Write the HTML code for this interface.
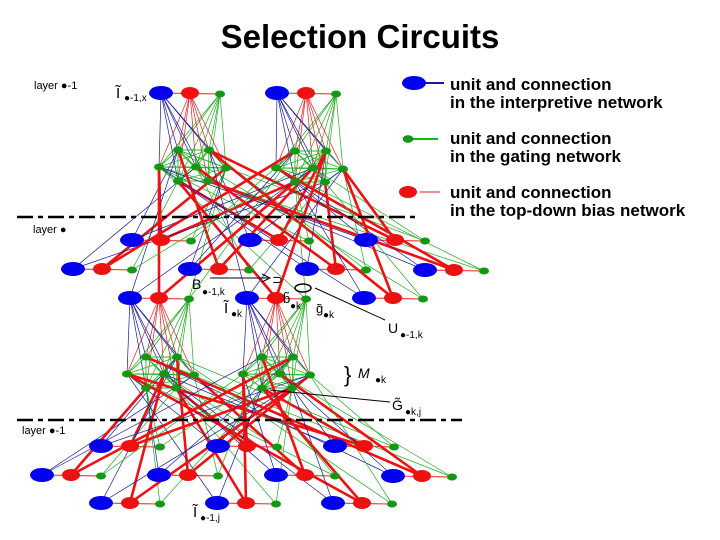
<!DOCTYPE html>
<html><head><meta charset="utf-8"><style>
body{margin:0;background:#fff;width:720px;height:540px;overflow:hidden}
svg{position:absolute;left:0;top:0}
text{font-family:"Liberation Sans",sans-serif}
</style></head><body>
<svg id="s" width="720" height="540" viewBox="0 0 720 540">
<text x="360" y="48" text-anchor="middle" font-size="33" font-weight="bold">Selection Circuits</text>
<g id="lines"></g>
<g id="nodes"></g>
<line x1="17" y1="217" x2="420" y2="217" stroke="#000" stroke-width="2.5" stroke-dasharray="16,5,5,5"/>
<line x1="17" y1="420" x2="462" y2="420" stroke="#000" stroke-width="2.5" stroke-dasharray="16,5,5,5"/>
<g font-size="11">
<text x="34" y="89">layer ●-1</text>
<text x="33" y="233">layer ●</text>
<text x="22" y="434">layer ●-1</text>
<text x="116" y="98" font-size="15">Ĩ</text><text x="124" y="101" font-size="10">●-1,x</text>
<text x="192" y="289" font-size="14">B</text><text x="202" y="295" font-size="10">●-1,k</text>
<text x="224" y="313" font-size="15">Ĩ</text><text x="231" y="317" font-size="10">●k</text>
<text x="283" y="303" font-size="13">b̃</text><text x="290" y="309" font-size="10">●k</text>
<text x="316" y="313" font-size="13">g̃</text><text x="323" y="318" font-size="10">●k</text>
<text x="388" y="333" font-size="14">U</text><text x="400" y="338" font-size="10">●-1,k</text>
<text x="344" y="382" font-size="22">}</text><text x="358" y="378" font-size="14" font-style="italic">M</text><text x="375" y="383" font-size="10">●k</text>
<text x="392" y="410" font-size="14">G̃</text><text x="405" y="415" font-size="10">●k,j</text>
<text x="193" y="517" font-size="15">Ĩ</text><text x="200" y="521" font-size="10">●-1,j</text>
</g>
<line x1="210" y1="278" x2="268" y2="278" stroke="#000" stroke-width="1"/>
<path d="M262 274 L270 278 L262 282" fill="none" stroke="#000"/>
<text x="272" y="284" font-size="13">⊃</text>
<path d="M295 288 a8 4 0 1 1 16 0 a8 4 0 1 1 -16 0" fill="none" stroke="#000" stroke-width="1.5"/>
<line x1="385" y1="320" x2="315" y2="288" stroke="#000"/>
<line x1="390" y1="402" x2="270" y2="390" stroke="#000"/>
<g font-size="17" font-weight="bold">
<text x="450" y="90">unit and connection</text><text x="450" y="108">in the interpretive network</text>
<text x="450" y="144">unit and connection</text><text x="450" y="162">in the gating network</text>
<text x="450" y="198">unit and connection</text><text x="450" y="216">in the top-down bias network</text>
</g>
<line x1="416" y1="83" x2="444" y2="83" stroke="#1a1a99" stroke-width="2"/>
<ellipse cx="414" cy="83" rx="12" ry="7" fill="#0000ee"/>
<line x1="405" y1="139" x2="438" y2="139" stroke="#11bb11" stroke-width="2"/>
<ellipse cx="408" cy="139" rx="5" ry="3.5" fill="#119911" stroke="#060" stroke-width=".5"/>
<line x1="420" y1="192" x2="440" y2="192" stroke="#e11" stroke-width="1"/>
<ellipse cx="408" cy="192" rx="9" ry="6" fill="#ee1111"/>
</svg>
<script>
var L=document.getElementById('lines'),N=document.getElementById('nodes'),ns='http://www.w3.org/2000/svg';
function ln(a,b,c,w){var e=document.createElementNS(ns,'line');e.setAttribute('x1',a[0]);e.setAttribute('y1',a[1]);e.setAttribute('x2',b[0]);e.setAttribute('y2',b[1]);e.setAttribute('stroke',c);e.setAttribute('stroke-width',w);L.appendChild(e);}
function el(p,rx,ry,c){var e=document.createElementNS(ns,'ellipse');e.setAttribute('cx',p[0]);e.setAttribute('cy',p[1]);e.setAttribute('rx',rx);e.setAttribute('ry',ry);e.setAttribute('fill',c);N.appendChild(e);}
var units=[];
function unit(bx,y){var u={b:[bx,y],r:[bx+29,y],g:[bx+59,y+1]};units.push(u);ln(u.b,u.g,'#e22',1);return u;}
function cluster(cx,cy){return [[cx,cy-17],[cx+31,cy-17],[cx-19,cy],[cx+18,cy],[cx+48,cy+1],[cx,cy+14],[cx+30,cy+14]];}
var C1=cluster(178,167),C2=cluster(295,168),C3=cluster(146,374),C4=cluster(262,374);
var top1=unit(161,93),top2=unit(277,93);
var mid=[],bot=[];
[[132,240],[250,240],[366,240],[73,269],[190,269],[307,269],[425,270],[130,298],[247,298],[364,298]].forEach(function(p){mid.push(unit(p[0],p[1]));});
[[101,446],[218,446],[335,446],[42,475],[159,475],[276,475],[393,476],[101,503],[217,503],[333,503]].forEach(function(p){bot.push(unit(p[0],p[1]));});
function upper(u,C){C.forEach(function(c){ln(u.b,c,'#1a1a99',.7);ln(u.r,c,'#d22',.7);ln(u.g,c,'#2a2',.7);});
 for(var i=0;i<7;i++)for(var j=i+1;j<7;j++)ln(C[i],C[j],'#2b2',.9);}
upper(top1,C1);upper(top2,C2);upper(mid[7],C3);upper(mid[8],C4);
function lower(C,arr,k){arr.forEach(function(u,i){var a=C[(i+k)%7],b=C[(i*3+k+2)%7],c=C[(i*5+k+4)%7];
 ln(a,u.b,'#1a1a99',.7);ln(c,u.g,'#2a2',.7);ln(b,u.r,'#e11',2.6);});}
lower(C1,mid,0);lower(C2,mid,3);lower(C3,bot,1);lower(C4,bot,4);
[C1,C2,C3,C4].forEach(function(C){C.forEach(function(c){el(c,5,3.5,'#119911');});});
units.forEach(function(u){el(u.b,12,7,'#0000ee');el(u.r,9,6,'#ee1111');el(u.g,5,3.5,'#119911');});
</script>
</body></html>
